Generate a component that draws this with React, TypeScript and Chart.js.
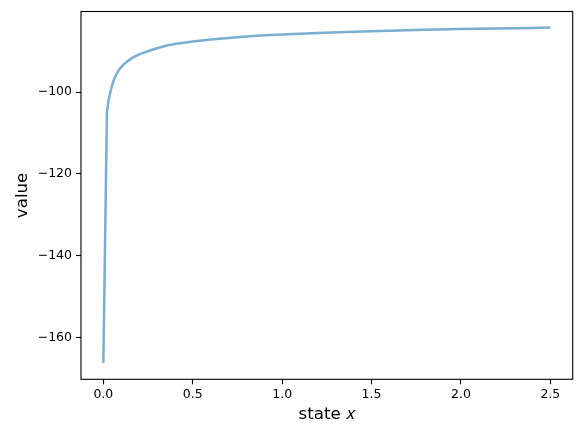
import React, { useEffect, useRef } from 'react';
import Chart from 'chart.js/auto';

// state grid and value
const stateX = [
  0, 0.02, 0.03, 0.04, 0.05, 0.06, 0.07, 0.08, 0.09, 0.1, 0.12, 0.14, 0.16, 0.18, 0.2, 0.23, 0.26, 0.3, 0.35,
  0.4, 0.45, 0.5, 0.6, 0.7, 0.8, 0.9, 1.0, 1.2, 1.4, 1.6, 1.8, 2.0, 2.2, 2.4, 2.5,
];
const valueY = [
  -166.2, -104.8, -101.8, -99.8, -98.2, -96.9, -95.9, -95.1, -94.4, -93.9, -93.0, -92.3, -91.7, -91.2, -90.77,
  -90.28, -89.83, -89.3, -88.68, -88.25, -87.92, -87.63, -87.17, -86.76, -86.42, -86.12, -85.9, -85.53, -85.23,
  -84.99, -84.78, -84.6, -84.45, -84.31, -84.24,
];

const xTicks = [0, 0.5, 1.0, 1.5, 2.0, 2.5];
const yTicks = [-160, -140, -120, -100];

const boxPlugin = {
  id: 'box',
  afterDraw(chart: any) {
    const { ctx, chartArea } = chart;
    ctx.save();
    ctx.strokeStyle = '#000';
    ctx.lineWidth = 1.1;
    ctx.strokeRect(chartArea.left, chartArea.top, chartArea.right - chartArea.left, chartArea.bottom - chartArea.top);
    ctx.restore();
  },
};

const App: React.FC = () => {
  const chartRef = useRef<HTMLCanvasElement>(null);
  const chartInstance = useRef<Chart | null>(null);

  useEffect(() => {
    if (!chartRef.current) return;
    if (chartInstance.current) chartInstance.current.destroy();

    const ctx = chartRef.current.getContext('2d');
    if (!ctx) return;

    const tickFont = { family: 'DejaVu Sans', size: 12.5 };
    const labelFont = { family: 'DejaVu Sans', size: 16.7 };

    chartInstance.current = new Chart(ctx, {
      type: 'line',
      data: {
        datasets: [
          {
            label: 'value',
            data: stateX.map((x, i) => ({ x, y: valueY[i] })),
            borderColor: 'rgba(31, 119, 180, 0.6)',
            borderWidth: 2.5,
            borderJoinStyle: 'round',
            borderCapStyle: 'butt',
            pointRadius: 0,
            tension: 0,
            fill: false,
          },
        ],
      },
      options: {
        animation: false,
        responsive: true,
        maintainAspectRatio: false,
        layout: { padding: { left: 0, top: 10.3, right: 14.3, bottom: 0 } },
        plugins: {
          legend: { display: false },
          tooltip: { enabled: false },
        },
        scales: {
          x: {
            type: 'linear',
            min: -0.125,
            max: 2.625,
            afterBuildTicks: (s: any) => {
              s.ticks = xTicks.map((v) => ({ value: v }));
            },
            afterFit: (s: any) => {
              s.height = 55.7;
            },
            ticks: {
              color: '#000',
              font: tickFont,
              padding: 3,
              maxRotation: 0,
              callback: (v: any) => Number(v).toFixed(1),
            },
            grid: { drawOnChartArea: false, tickLength: 5, tickColor: '#000', tickWidth: 1.1 },
            border: { display: false },
            title: { display: true, text: 'state 𝑥', color: '#000', font: labelFont, padding: { top: 0, bottom: 10 } },
          },
          y: {
            type: 'linear',
            min: -170.2,
            max: -80.3,
            afterBuildTicks: (s: any) => {
              s.ticks = yTicks.map((v) => ({ value: v }));
            },
            afterFit: (s: any) => {
              s.width = 81;
            },
            ticks: {
              color: '#000',
              font: tickFont,
              padding: 4,
              callback: (v: any) => String(v).replace('-', '\u2212'),
            },
            grid: { drawOnChartArea: false, tickLength: 5, tickColor: '#000', tickWidth: 1.1 },
            border: { display: false },
            title: { display: true, text: 'value', color: '#000', font: labelFont, padding: { top: 13, bottom: 0 } },
          },
        },
      },
      plugins: [boxPlugin],
    });

    return () => {
      if (chartInstance.current) {
        chartInstance.current.destroy();
        chartInstance.current = null;
      }
    };
  }, []);

  return (
    <div style={{ position: 'absolute', left: 0, top: 0, width: 587, height: 435, background: '#fff' }}>
      <canvas ref={chartRef}></canvas>
    </div>
  );
};

export default App;
